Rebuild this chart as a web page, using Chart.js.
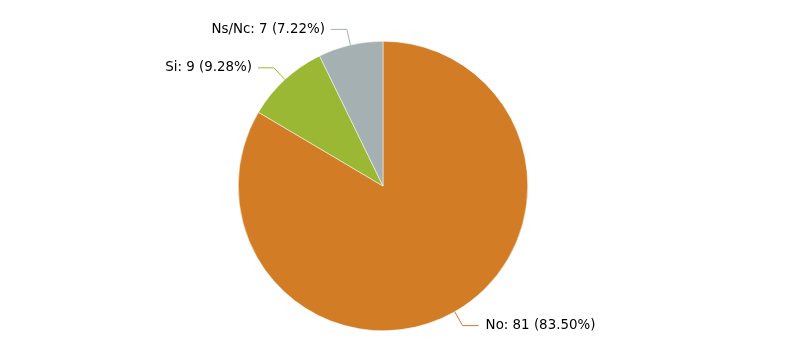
<!DOCTYPE html>
<html>
<head>
<meta charset="utf-8">
<script src="https://cdn.jsdelivr.net/npm/chart.js@4"></script>
<style>
  html, body { margin: 0; padding: 0; background: #fff; }
  #wrap { width: 800px; height: 346px; }
</style>
</head>
<body>
<div id="wrap"><canvas id="c" width="800" height="346"></canvas></div>
<script>
const labels = ["No", "Si", "Ns/Nc"];
const values = [81, 9, 7];
const percents = ["83.50", "9.28", "7.22"];
const colors = ["#D37C26", "#9BB834", "#A4B0B1"];

// leader lines + labels drawn next to each slice
const pieLabels = {
  id: "pieLabels",
  afterDatasetsDraw(chart) {
    const ctx = chart.ctx;
    const arcs = chart.getDatasetMeta(0).data;
    ctx.save();
    ctx.font = "13.4px 'DejaVu Sans'";
    ctx.textBaseline = "middle";
    arcs.forEach((arc, i) => {
      const p = arc.getProps(["x", "y", "startAngle", "endAngle", "outerRadius"], true);
      const mid = (p.startAngle + p.endAngle) / 2;
      const x0 = p.x + Math.cos(mid) * p.outerRadius;
      const y0 = p.y + Math.sin(mid) * p.outerRadius;
      const x1 = p.x + Math.cos(mid) * (p.outerRadius + 16);
      const y1 = p.y + Math.sin(mid) * (p.outerRadius + 16);
      const right = Math.cos(mid) >= 0;
      const x2 = x1 + (right ? 16 : -16);
      ctx.strokeStyle = colors[i];
      ctx.lineWidth = 1;
      ctx.beginPath();
      ctx.moveTo(x0, y0);
      ctx.lineTo(x1, y1);
      ctx.lineTo(x2, y1);
      ctx.stroke();
      ctx.fillStyle = "#000";
      ctx.textAlign = right ? "left" : "right";
      ctx.fillText(labels[i] + ": " + values[i] + " (" + percents[i] + "%)", x2 + (right ? 7 : -6), y1);
    });
    ctx.restore();
  }
};

new Chart(document.getElementById("c"), {
  type: "pie",
  data: {
    labels: labels,
    datasets: [{
      data: values,
      backgroundColor: colors,
      borderColor: "#fff",
      borderWidth: 0.5
    }]
  },
  options: {
    responsive: false,
    animation: false,
    layout: { padding: { top: 41, bottom: 15, left: 0, right: 34 } },
    plugins: {
      legend: { display: false },
      tooltip: { enabled: false }
    }
  },
  plugins: [pieLabels]
});
</script>
</body>
</html>
